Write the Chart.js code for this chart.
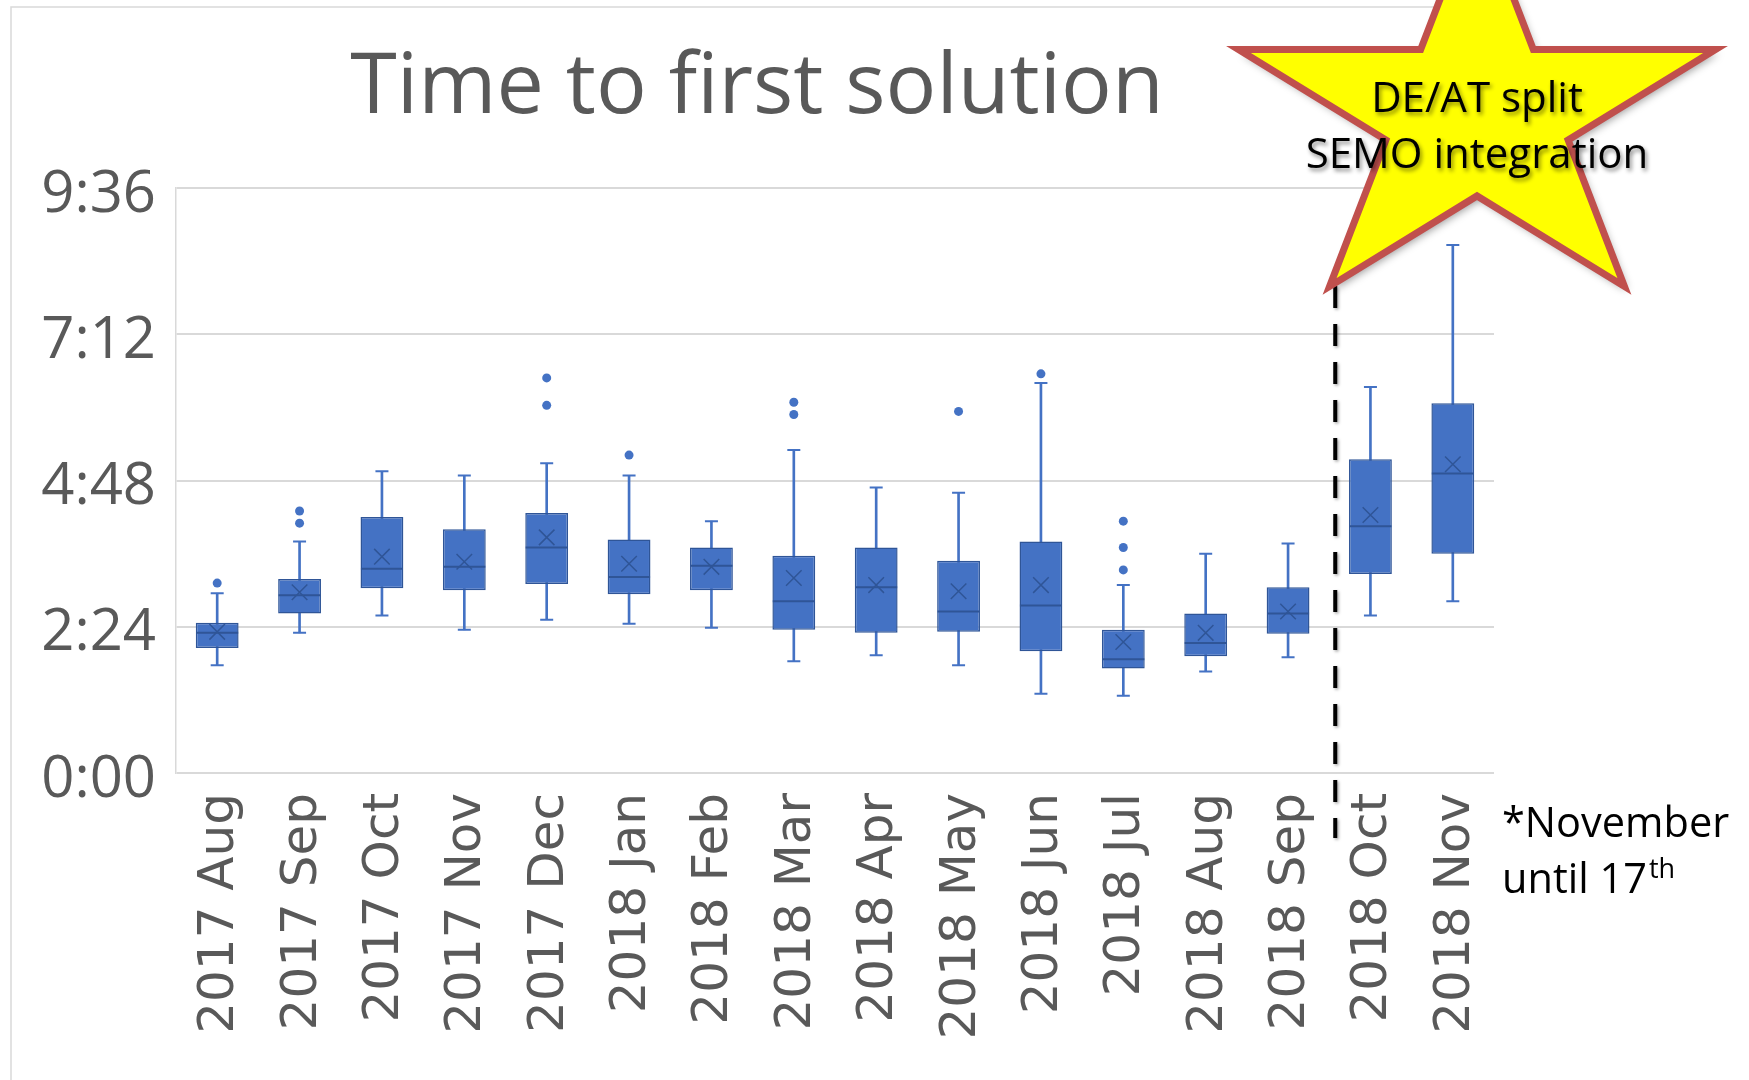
<!DOCTYPE html>
<html>
<head>
<meta charset="utf-8">
<script src="https://cdn.jsdelivr.net/npm/chart.js@4.4.1/dist/chart.umd.min.js"></script>
<style>
html,body{margin:0;padding:0;background:#fff;overflow:hidden}
#wrap{position:relative;width:1749px;height:1080px}
</style>
</head>
<body>
<div id="wrap"><canvas id="c" width="1749" height="1080"></canvas></div>
<script>
// ---- data (minutes) ----
const categories = ['2017 Aug','2017 Sep','2017 Oct','2017 Nov','2017 Dec','2018 Jan','2018 Feb','2018 Mar','2018 Apr','2018 May','2018 Jun','2018 Jul','2018 Aug','2018 Sep','2018 Oct','2018 Nov'];
const whiskerLow  = [106, 138, 155, 141, 151, 147, 143, 110, 116, 106,  78,  76, 100, 114, 155, 169];
const q1          = [123, 157, 182, 180, 186, 176, 180, 141, 138, 139, 120, 103, 115, 137, 196, 216];
const median      = [138, 175, 201, 203, 222, 193, 204, 169, 183, 159, 165, 112, 128, 157, 243, 295];
const mean        = [139, 178, 213, 208, 232, 206, 203, 192, 185, 179, 185, 129, 138, 159, 254, 304];
const q3          = [148, 191, 252, 240, 256, 230, 222, 214, 222, 209, 228, 141, 157, 183, 309, 364];
const whiskerHigh = [177, 228, 297, 293, 305, 293, 248, 318, 281, 276, 384, 185, 216, 226, 380, 520];
const outlierCategories = ['2017 Aug','2017 Sep','2017 Sep','2017 Dec','2017 Dec','2018 Jan','2018 Mar','2018 Mar','2018 May','2018 Jun','2018 Jul','2018 Jul','2018 Jul'];
const outlierValues     = [187, 246, 258, 362, 389, 313, 353, 365, 356, 393, 200, 222, 248];
const yTickLabels = ['0:00','2:24','4:48','7:12','9:36'];
const titleText = 'Time to first solution';
const starLines = ['DE/AT split','SEMO integration'];
const noteLine1 = '*November';
const noteLine2 = 'until 17';
const noteSup = 'th';

// ---- build ----
const BLUE = '#4472C4', DARK = '#2F5597';
const whiskerRanges = categories.map((c, i) => [whiskerLow[i], whiskerHigh[i]]);
const boxRanges = categories.map((c, i) => [q1[i], q3[i]]);
const outlierPoints = outlierValues.map((v, i) => ({x: outlierCategories[i], y: v}));

const decor = {
  id: 'decor',
  beforeDraw(chart) {
    const ctx = chart.ctx;
    ctx.save();
    ctx.fillStyle = '#fff';
    ctx.fillRect(0, 0, chart.width, chart.height);
    ctx.strokeStyle = '#D9D9D9';
    ctx.lineWidth = 1.5;
    ctx.beginPath();
    ctx.moveTo(11, 1080);
    ctx.lineTo(11, 7);
    ctx.lineTo(1504, 7);
    ctx.stroke();
    ctx.restore();
  },
  afterDraw(chart) {
    const ctx = chart.ctx;
    const xs = chart.scales.x;
    // dashed separator between 2018 Sep and 2018 Oct
    const xd = (xs.getPixelForValue(13) + xs.getPixelForValue(14)) / 2 + 6;
    ctx.save();
    ctx.shadowColor = 'rgba(0,0,0,0.35)';
    ctx.shadowBlur = 3; ctx.shadowOffsetX = 1.5; ctx.shadowOffsetY = 1.5;
    ctx.strokeStyle = '#000';
    ctx.lineWidth = 4;
    ctx.setLineDash([22, 16]);
    ctx.beginPath();
    ctx.moveTo(xd, 286);
    ctx.lineTo(xd, 838);
    ctx.stroke();
    ctx.restore();

    // star
    const cx = 1477, cy = 115, R = 250.8, ry = 0.845, ri = 0.382;
    ctx.save();
    ctx.beginPath();
    for (let k = 0; k < 10; k++) {
      const a = (-90 + k * 36) * Math.PI / 180;
      const rr = (k % 2 === 0) ? R : R * ri;
      const px = cx + rr * Math.cos(a), py = cy + rr * Math.sin(a) * ry;
      if (k === 0) ctx.moveTo(px, py); else ctx.lineTo(px, py);
    }
    ctx.closePath();
    ctx.shadowColor = 'rgba(0,0,0,0.4)';
    ctx.shadowBlur = 8; ctx.shadowOffsetX = 3; ctx.shadowOffsetY = 4;
    ctx.fillStyle = '#FFFF00';
    ctx.fill();
    ctx.shadowColor = 'rgba(0,0,0,0)';
    ctx.lineJoin = 'miter';
    ctx.miterLimit = 10;
    ctx.lineWidth = 7;
    ctx.strokeStyle = '#C0504D';
    ctx.stroke();
    ctx.restore();

    // star text
    ctx.save();
    ctx.fillStyle = '#000';
    ctx.textAlign = 'center';
    ctx.textBaseline = 'alphabetic';
    ctx.shadowColor = 'rgba(0,0,0,0.45)';
    ctx.shadowBlur = 4; ctx.shadowOffsetX = 2; ctx.shadowOffsetY = 3;
    ctx.font = '42px "Open Sans"';
    ctx.fillText(starLines[0], 1477, 112);
    ctx.fillText(starLines[1], 1477, 168);
    ctx.restore();

    // note
    ctx.save();
    ctx.fillStyle = '#000';
    ctx.textAlign = 'left';
    ctx.textBaseline = 'alphabetic';
    ctx.font = '41.5px "Open Sans"';
    ctx.fillText(noteLine1, 1502, 837);
    ctx.fillText(noteLine2, 1502, 893);
    const w2 = ctx.measureText(noteLine2).width;
    ctx.font = '27px "Open Sans"';
    ctx.fillText(noteSup, 1502 + w2 + 2, 878);
    ctx.restore();
  }
};

new Chart(document.getElementById('c'), {
  type: 'bar',
  data: {
    labels: categories,
    datasets: [
      {type: 'bar', data: whiskerRanges, backgroundColor: BLUE, barThickness: 2, grouped: false, order: 6},
      {type: 'bar', data: boxRanges, backgroundColor: BLUE, borderColor: DARK, borderWidth: 1.5, borderSkipped: false,
       barPercentage: 0.52, categoryPercentage: 1, grouped: false, order: 5},
      {type: 'line', data: whiskerLow, showLine: false, pointStyle: 'line', pointRadius: 6.5, pointBorderWidth: 2,
       pointBorderColor: BLUE, order: 4},
      {type: 'line', data: whiskerHigh, showLine: false, pointStyle: 'line', pointRadius: 6.5, pointBorderWidth: 2,
       pointBorderColor: BLUE, order: 4},
      {type: 'line', data: median, showLine: false, pointStyle: 'line', pointRadius: 21, pointBorderWidth: 2,
       pointBorderColor: DARK, order: 3},
      {type: 'line', data: mean, showLine: false, pointStyle: 'crossRot', pointRadius: 11, pointBorderWidth: 1.5,
       pointBorderColor: DARK, order: 2},
      {type: 'line', data: outlierPoints, showLine: false, pointStyle: 'circle', pointRadius: 4.5, pointBorderWidth: 0,
       pointBackgroundColor: BLUE, pointBorderColor: BLUE, order: 1}
    ]
  },
  options: {
    responsive: false,
    devicePixelRatio: 1,
    animation: false,
    events: [],
    layout: {padding: {left: 20, right: 255, top: 0, bottom: 0}},
    plugins: {
      legend: {display: false},
      tooltip: {enabled: false},
      title: {
        display: true,
        text: titleText,
        color: '#595959',
        font: {family: '"Open Sans"', size: 84.5, weight: 'normal', lineHeight: 1},
        padding: {top: 47, bottom: 56.5}
      }
    },
    scales: {
      x: {
        offset: true,
        grid: {display: false, drawTicks: false},
        border: {display: false},
        ticks: {color: '#595959', font: {family: '"DejaVu Sans"', size: 50}, minRotation: 90, maxRotation: 90,
                autoSkip: false, padding: 20, labelOffset: 3},
        afterFit(s) { s.height = 307; }
      },
      y: {
        min: 0, max: 576,
        grid: {color: '#D9D9D9', lineWidth: 2, drawTicks: false},
        border: {display: true, color: '#D9D9D9', width: 1.5},
        ticks: {stepSize: 144, color: '#595959', font: {family: '"Open Sans"', size: 58}, padding: 20, labelOffset: 7,
                callback: (v, i) => yTickLabels[i]},
        afterFit(s) { s.width = 156; }
      }
    }
  },
  plugins: [decor]
});
</script>
</body>
</html>
